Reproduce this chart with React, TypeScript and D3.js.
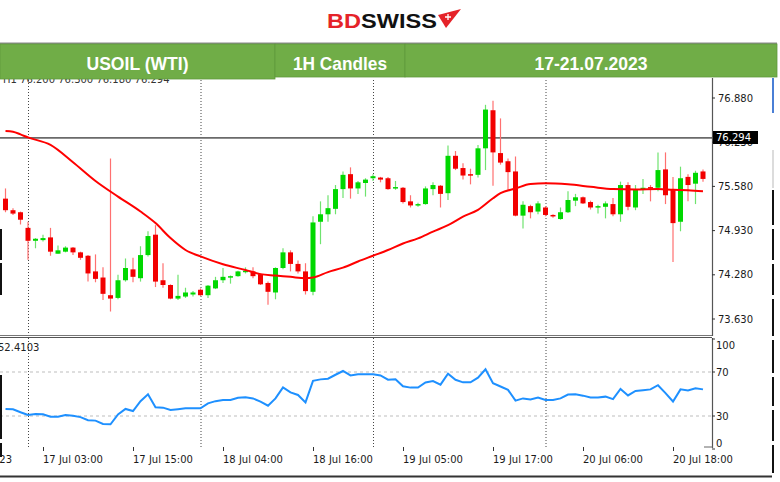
import React from "react";
import * as d3 from "d3";

// ---------- DATA ----------
const FIRST_BAR = -3; // bar index of first candle (0 = 17 Jul 01:00)
const opens = [75.40,75.23,75.20,74.97,74.78,74.79,74.83,74.59,74.62,74.68,74.61,74.56,74.33,74.24,73.98,73.94,74.20,74.36,74.23,74.57,74.87,74.20,74.13,73.93,73.96,73.99,74.06,73.98,74.08,74.20,74.24,74.26,74.32,74.33,74.29,74.16,74.02,74.38,74.61,74.44,74.33,74.03,75.06,75.17,75.25,75.54,75.76,75.55,75.63,75.70,75.71,75.70,75.55,75.56,75.36,75.30,75.32,75.54,75.59,75.48,76.03,75.85,75.76,75.75,76.14,76.70,76.07,75.95,75.80,75.15,75.29,75.21,75.27,75.16,75.10,75.20,75.37,75.42,75.35,75.27,75.28,75.32,75.17,75.60,75.27,75.54,75.57,75.56,75.83,75.53,75.06,75.72,75.62,75.80];
const highs = [75.55,75.26,75.21,75.06,74.82,74.87,74.97,74.71,74.70,74.69,74.62,74.57,74.58,74.39,75.99,74.28,74.52,74.53,74.70,74.92,75.01,74.45,74.14,74.28,74.09,74.04,74.08,74.13,74.25,74.38,74.27,74.34,74.39,74.39,74.30,74.18,74.39,74.67,74.64,74.49,74.45,75.14,75.36,75.45,75.60,75.80,75.86,75.66,75.70,75.76,75.72,75.72,75.66,75.57,75.45,75.34,75.58,75.64,75.60,76.18,76.10,75.92,75.84,76.19,76.78,76.84,76.58,75.99,76.02,75.36,75.31,75.36,75.29,75.17,75.27,75.51,75.47,75.43,75.37,75.31,75.36,75.41,75.65,75.64,75.60,75.69,75.60,76.08,76.08,75.72,75.87,75.76,75.81,75.83];
const lows = [75.20,75.16,75.02,74.50,74.67,74.77,74.56,74.59,74.61,74.57,74.50,74.18,74.17,73.91,73.74,73.92,74.18,74.17,74.18,74.55,74.10,74.09,73.92,73.91,73.94,73.96,73.97,73.94,74.07,74.16,74.15,74.25,74.30,74.23,74.13,73.84,73.92,74.36,74.33,74.30,73.99,73.98,74.73,75.06,75.17,75.41,75.40,75.47,75.43,75.66,75.64,75.53,75.53,75.33,75.27,75.28,75.31,75.45,75.27,75.38,75.82,75.68,75.61,75.71,75.82,75.59,75.90,75.53,75.14,74.96,75.11,75.17,75.14,75.12,75.09,75.19,75.29,75.32,75.24,75.18,75.11,75.14,75.06,75.23,75.23,75.47,75.36,75.51,75.32,74.47,74.92,75.36,75.32,75.65];
const closes = [75.23,75.18,75.09,74.78,74.81,74.82,74.62,74.64,74.68,74.61,74.53,74.30,74.22,74.00,73.93,74.20,74.38,74.25,74.57,74.85,74.18,74.13,73.93,73.97,74.02,74.02,73.98,74.12,74.20,74.25,74.26,74.33,74.34,74.26,74.14,74.03,74.38,74.61,74.44,74.33,74.04,75.05,75.17,75.26,75.54,75.75,75.55,75.64,75.68,75.73,75.68,75.54,75.57,75.35,75.30,75.32,75.55,75.60,75.47,76.03,75.84,75.74,75.74,76.14,76.71,76.08,75.93,75.79,75.15,75.31,75.20,75.33,75.16,75.14,75.20,75.38,75.42,75.33,75.27,75.29,75.33,75.17,75.60,75.28,75.53,75.56,75.55,75.82,75.45,75.04,75.70,75.60,75.78,75.69];

// moving average: [bar index, value]
const maPoints: [number, number][] = [
  [-3,76.395],[-2,76.385],[-1,76.345],[0,76.30],[3,76.19],[6,75.935],[9,75.66],[12,75.43],[15,75.21],[17,75.04],[19,74.82],[21,74.645],[23,74.55],[26,74.435],[29,74.35],[31,74.29],[33,74.27],[35,74.25],[37,74.23],[38,74.24],[40,74.32],[42,74.385],[44,74.475],[46,74.56],[48,74.645],[50,74.74],[52,74.815],[54,74.915],[56,75.01],[58,75.135],[60,75.235],[62,75.405],[63,75.48],[65,75.55],[67,75.615],[69,75.625],[72,75.61],[75,75.575],[78,75.54],[81,75.535],[84,75.54],[86,75.53],[88,75.525],[90,75.51]
];

// RSI per bar from FIRST_BAR
const rsi = [36.4,36.1,33.4,30.9,31.8,31.5,29.4,29.4,30.9,30.2,29.0,26.2,25.8,22.8,22.5,31.5,36.4,34.5,43.5,49.7,37.9,37.6,35.5,36.2,37.0,37.0,37.0,41.5,43.5,44.5,44.5,46.5,47.0,46.0,43.0,39.4,46.0,56.0,51.5,49.1,42.4,62.0,63.3,63.9,67.5,70.9,66.9,67.9,67.9,67.9,66.9,63.0,63.3,57.0,55.8,55.8,60.5,61.8,58.5,68.5,62.9,60.6,60.6,64.8,72.5,59.8,56.8,53.8,44.0,46.0,45.1,46.7,44.5,44.5,46.0,49.5,49.7,48.5,46.9,46.9,47.6,45.3,54.6,48.7,52.8,53.5,54.2,58.0,50.8,43.2,54.2,53.2,55.2,54.2];

const priceTicks = [76.88, 76.23, 75.58, 74.93, 74.28, 73.63];
const rsiTicks = [100, 70, 30, 0];
const rsiLevels = [70, 30];
const daySeparators = [0, 23, 46, 69];
const timeLabels = ["17 Jul 03:00","17 Jul 15:00","18 Jul 04:00","18 Jul 16:00","19 Jul 05:00","19 Jul 17:00","20 Jul 06:00","20 Jul 18:00"];
const timeLabelBars = [2, 14, 26, 38, 50, 62, 74, 86];
const lastPrice = 76.294;
const rsiValueText = "52.4103";
const ohlcText = "H1  76.200 76.300 76.180 76.294";
const headerCells = ["USOIL (WTI)", "1H Candles", "17-21.07.2023"];

// ---------- LAYOUT ----------
const W = 780, H = 482;
const AXIS_X = 712;
const MAIN_TOP = 78, MAIN_BOTTOM = 335;
const RSI_TOP = 338, RSI_BOTTOM = 448;

const x = d3.scaleLinear().domain([0, 90]).range([28, 703]);
const y = d3.scaleLinear().domain([73.63, 76.88]).range([319, 98]);
const yr = d3.scaleLinear().domain([0, 100]).range([449, 339]);

const GREEN = "#00d800";
const GREEN_WICK = "#6fe36f";
const RED = "#f20000";
const RED_WICK = "#ff7070";
const FONT = "'DejaVu Sans', Verdana, sans-serif";

export default function App() {
  const bars = opens.map((o, i) => ({
    i: FIRST_BAR + i, o, h: highs[i], l: lows[i], c: closes[i],
  }));
  const maLine = d3.line<[number, number]>().x(d => x(d[0])).y(d => y(d[1])).curve(d3.curveMonotoneX)(maPoints) || "";
  const rsiLine = d3.line<number>().x((_, i) => x(FIRST_BAR + i)).y(d => yr(d))(rsi) || "";

  const cellX = [0, 275, 405, 777];
  const cellW = [102, 94, 113];

  return (
    <svg width={W} height={H} style={{ position: "fixed", left: 0, top: 0, background: "#fff", display: "block" }}>
      <defs>
        <clipPath id="mainClip"><rect x={0} y={MAIN_TOP} width={AXIS_X} height={MAIN_BOTTOM - MAIN_TOP} /></clipPath>
        <clipPath id="rsiClip"><rect x={0} y={RSI_TOP} width={AXIS_X} height={RSI_BOTTOM - RSI_TOP} /></clipPath>
      </defs>
      <rect x={0} y={0} width={W} height={H} fill="#fff" />

      {/* OHLC text partly hidden under header */}
      <text x={3} y={83} fontFamily={FONT} fontSize={10} fill="#333">{ohlcText}</text>

      {/* Logo */}
      <g>
        <text x={327} y={28} fontFamily="'Liberation Sans', Arial, sans-serif" fontWeight="bold" fontSize={21} textLength={110} lengthAdjust="spacingAndGlyphs">
          <tspan fill="#e52329">BD</tspan><tspan fill="#111">SWISS</tspan>
        </text>
        <polygon points="438,15 461,9 446,28" fill="#e52329" />
        <path d="M448 14 v6 M445 17 h6" stroke="#fff" strokeWidth={1.3} />
      </g>

      {/* Header */}
      <rect x={0} y={42.5} width={777} height={1.5} fill="#8a8a8a" />
      {headerCells.map((t, k) => (
        <g key={t}>
          <rect x={cellX[k]} y={44} width={cellX[k + 1] - cellX[k]} height={k === 0 ? 35 : 33} fill="#70ad47" stroke="#5f9a3c" strokeWidth={0.8} />
          <text x={(cellX[k] + cellX[k + 1]) / 2 + (k === 2 ? 0 : 0)} y={70} textAnchor="middle" fill="#fff"
            fontFamily="'Liberation Sans', Arial, sans-serif" fontWeight="bold" fontSize={19}
            textLength={cellW[k]} lengthAdjust="spacingAndGlyphs">{t}</text>
        </g>
      ))}

      {/* Day separators */}
      {daySeparators.map(d => (
        <line key={d} x1={x(d) + 0.5} x2={x(d) + 0.5} y1={80} y2={RSI_BOTTOM} stroke="#444" strokeWidth={1} strokeDasharray="1,2" />
      ))}

      {/* Main pane */}
      <g clipPath="url(#mainClip)">
        <line x1={0} x2={AXIS_X} y1={y(lastPrice)} y2={y(lastPrice)} stroke="#6a6a6a" strokeWidth={1.6} />
        {bars.map(b => {
          const up = b.c >= b.o;
          const top = y(Math.max(b.o, b.c));
          const bot = y(Math.min(b.o, b.c));
          const cx = x(b.i);
          return (
            <g key={b.i}>
              <line x1={cx} x2={cx} y1={y(b.h)} y2={y(b.l)} stroke={up ? GREEN_WICK : RED_WICK} strokeWidth={1.2} />
              <rect x={cx - 2.5} y={top} width={5} height={Math.max(bot - top, 1.5)} fill={up ? GREEN : RED} />
            </g>
          );
        })}
        <path d={maLine} fill="none" stroke="#ff0000" strokeWidth={2} />
      </g>

      {/* Pane separators */}
      <line x1={0} x2={AXIS_X} y1={335.5} y2={335.5} stroke="#777" strokeWidth={1} />
      <line x1={0} x2={AXIS_X} y1={337.5} y2={337.5} stroke="#555" strokeWidth={1} />

      {/* Price axis */}
      <line x1={AXIS_X + 0.5} x2={AXIS_X + 0.5} y1={MAIN_TOP} y2={336} stroke="#555" strokeWidth={1.2} />
      {priceTicks.map(p => (
        <g key={p}>
          <line x1={AXIS_X} x2={AXIS_X + 3} y1={y(p)} y2={y(p)} stroke="#333" />
          <text x={718} y={y(p) + 3.6} fontFamily={FONT} fontSize={10} fill="#1a1a1a">{p.toFixed(3)}</text>
        </g>
      ))}
      <rect x={713} y={131} width={45} height={13} fill="#000" />
      <text x={716} y={141.3} fontFamily={FONT} fontSize={10} fill="#fff">{lastPrice.toFixed(3)}</text>

      {/* RSI pane */}
      <g clipPath="url(#rsiClip)">
        {rsiLevels.map(v => (
          <line key={v} x1={0} x2={AXIS_X} y1={yr(v)} y2={yr(v)} stroke="#bdbdbd" strokeWidth={1} strokeDasharray="3,3" />
        ))}
        <path d={rsiLine} fill="none" stroke="#1e90ff" strokeWidth={2} />
      </g>
      <text x={-2} y={351} fontFamily={FONT} fontSize={10} fill="#222">{rsiValueText}</text>
      <line x1={AXIS_X + 0.5} x2={AXIS_X + 0.5} y1={RSI_TOP} y2={RSI_BOTTOM} stroke="#555" strokeWidth={1.2} />
      <line x1={704} x2={AXIS_X + 1} y1={RSI_BOTTOM - 1} y2={RSI_BOTTOM - 1} stroke="#666" strokeWidth={1} />
      {rsiTicks.map(v => {
        const cy = Math.min(Math.max(yr(v), 345), 443);
        return (
          <g key={v}>
            <line x1={AXIS_X} x2={AXIS_X + 3} y1={yr(v)} y2={yr(v)} stroke="#333" />
            <text x={716} y={cy + 3.6} fontFamily={FONT} fontSize={10} fill="#1a1a1a">{v}</text>
          </g>
        );
      })}

      {/* Time axis */}
      <text x={12} y={463} textAnchor="end" fontFamily={FONT} fontSize={10} fill="#1a1a1a">14 Jul 2023</text>
      {timeLabelBars.map((b, k) => (
        <g key={b}>
          <line x1={x(b) + 0.5} x2={x(b) + 0.5} y1={RSI_BOTTOM - 1} y2={RSI_BOTTOM + 3} stroke="#333" />
          <text x={x(b)} y={463} fontFamily={FONT} fontSize={10} fill="#1a1a1a">{timeLabels[k]}</text>
        </g>
      ))}

      {/* Frame remnants */}
      <line x1={0} x2={772} y1={476.5} y2={476.5} stroke="#333" strokeWidth={2} />
      {[[229, 260], [263, 295], [375, 439], [443, 457]].map(([a, b2]) => (
        <line key={"l" + a} x1={1} x2={1} y1={a} y2={b2} stroke="#111" strokeWidth={2} />
      ))}
      <line x1={773} x2={773} y1={78} y2={113} stroke="#4a7fd6" strokeWidth={2} />
      <line x1={773} x2={773} y1={150} y2={188} stroke="#dcdcdc" strokeWidth={2} />
      {[[190, 225], [229, 260], [264, 295], [299, 336], [340, 373], [377, 406], [410, 441], [445, 473]].map(([a, b2]) => (
        <line key={"r" + a} x1={773} x2={773} y1={a} y2={b2} stroke="#111" strokeWidth={2} />
      ))}
    </svg>
  );
}
